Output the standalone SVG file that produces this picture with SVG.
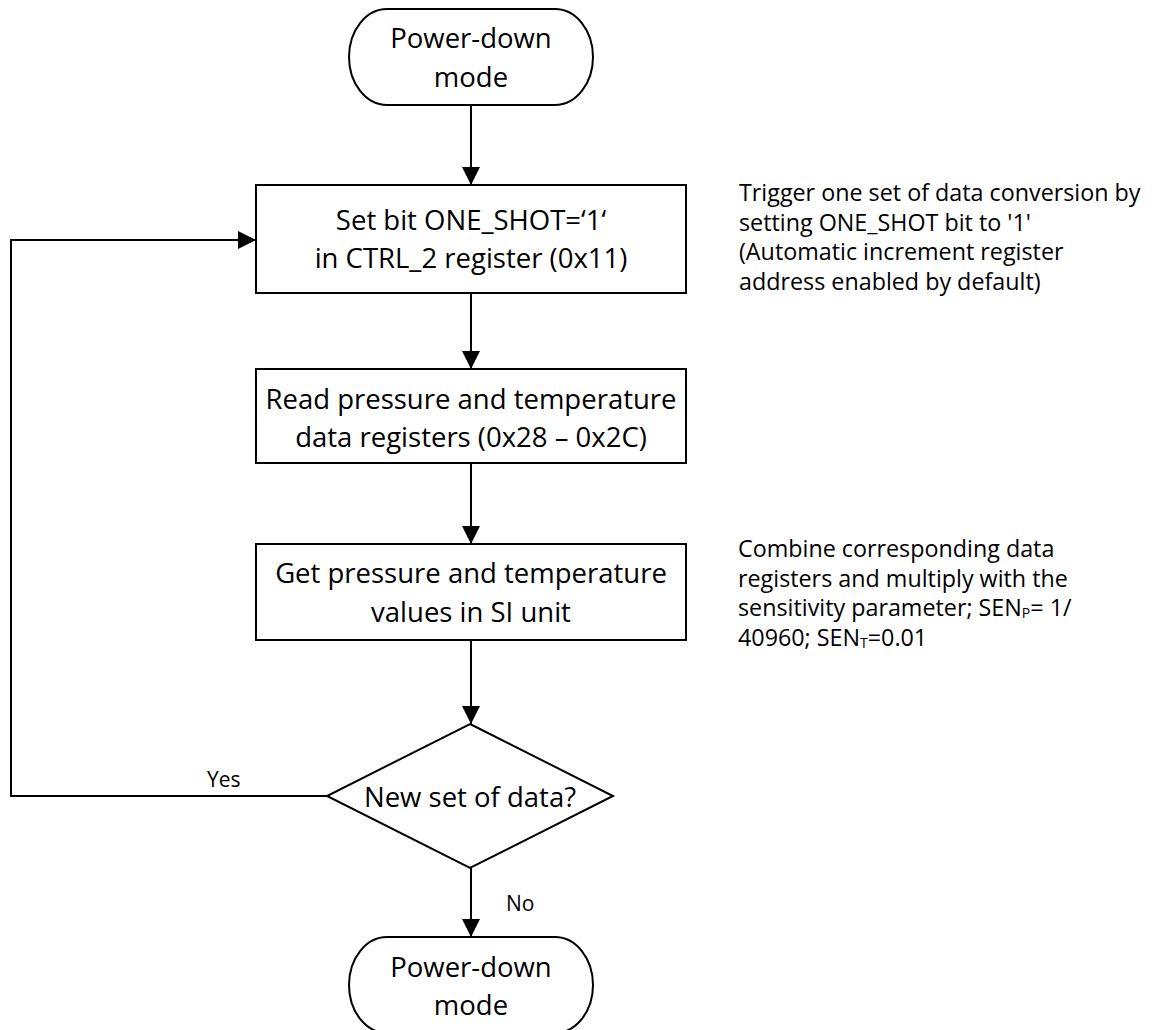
<svg xmlns="http://www.w3.org/2000/svg" width="1152" height="1030" viewBox="0 0 1152 1030">
<style>
.shape{fill:#fff;stroke:#000;stroke-width:2}
.conn{fill:none;stroke:#000;stroke-width:2}
.t{font-family:"Open Sans","Noto Sans","Liberation Sans",sans-serif;font-size:27.5px;fill:#000;text-anchor:middle}
.note{font-family:"Open Sans","Noto Sans","Liberation Sans",sans-serif;font-size:23.3px;fill:#000}
.lbl{font-family:"Open Sans","Noto Sans","Liberation Sans",sans-serif;font-size:21px;fill:#000}
</style>
<defs>
<marker id="arr" markerUnits="userSpaceOnUse" markerWidth="18" markerHeight="18" viewBox="0 0 16 16" refX="16" refY="8" orient="auto">
<path d="M0,0 L16,8 L0,16 Z" fill="#000"/>
</marker>
</defs>
<rect width="1152" height="1030" fill="#fff"/>
<g id="connectors">
<line class="conn" x1="471" y1="105" x2="471" y2="185" marker-end="url(#arr)"/>
<line class="conn" x1="471" y1="293" x2="471" y2="369" marker-end="url(#arr)"/>
<line class="conn" x1="471" y1="463" x2="471" y2="544" marker-end="url(#arr)"/>
<line class="conn" x1="471" y1="640" x2="471" y2="724" marker-end="url(#arr)"/>
<line class="conn" x1="471" y1="868" x2="471" y2="937" marker-end="url(#arr)"/>
<polyline class="conn" points="327,796 11,796 11,240 256,240" marker-end="url(#arr)"/>
<text class="lbl" x="207" y="787">Yes</text>
<text class="lbl" x="506" y="911">No</text>
</g>
<g id="start">
<rect class="shape" x="349" y="9" width="244" height="96" rx="38" ry="48"/>
<text class="t" x="471" y="48">Power-down</text>
<text class="t" x="471" y="87">mode</text>
</g>
<g id="set-oneshot">
<rect class="shape" x="256" y="185" width="430" height="108"/>
<text class="t" x="471" y="230">Set bit ONE_SHOT=‘1‘</text>
<text class="t" x="471" y="268">in CTRL_2 register (0x11)</text>
</g>
<g id="read-registers">
<rect class="shape" x="256" y="369" width="430" height="94"/>
<text class="t" x="471" y="409">Read pressure and temperature</text>
<text class="t" x="471" y="447">data registers (0x28 – 0x2C)</text>
</g>
<g id="get-values">
<rect class="shape" x="256" y="544" width="430" height="96"/>
<text class="t" x="471" y="583">Get pressure and temperature</text>
<text class="t" x="471" y="622">values in SI unit</text>
</g>
<g id="decision">
<polygon class="shape" points="470,724 613,796 470,868 327,796"/>
<text class="t" x="470" y="807">New set of data?</text>
</g>
<g id="end">
<rect class="shape" x="349" y="937" width="244" height="96" rx="38" ry="48"/>
<text class="t" x="471" y="977">Power-down</text>
<text class="t" x="471" y="1015">mode</text>
</g>
<g id="note-trigger">
<text class="note" x="739" y="201">Trigger one set of data conversion by</text>
<text class="note" x="739" y="230.5">setting ONE_SHOT bit to '1'</text>
<text class="note" x="739" y="260">(Automatic increment register</text>
<text class="note" x="739" y="289.5">address enabled by default)</text>
</g>
<g id="note-combine">
<text class="note" x="738" y="557">Combine corresponding data</text>
<text class="note" x="738" y="586.5">registers and multiply with the</text>
<text class="note" x="738" y="616">sensitivity parameter; SEN<tspan font-size="14" dy="2">P</tspan><tspan dy="-2">= 1/</tspan></text>
<text class="note" x="738" y="645.5">40960; SEN<tspan font-size="14" dy="2">T</tspan><tspan dy="-2">=0.01</tspan></text>
</g>
</svg>
